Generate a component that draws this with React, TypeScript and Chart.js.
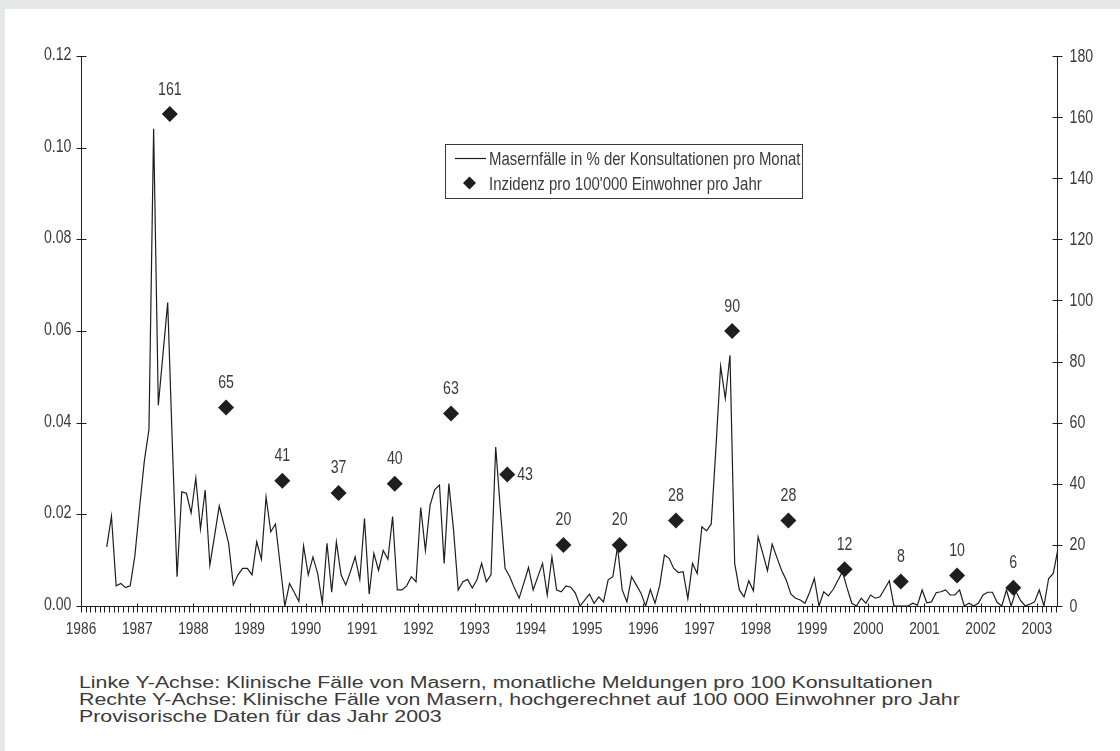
import React, { useEffect, useLayoutEffect, useRef, useState } from 'react';
import { Chart, registerables } from 'chart.js';

Chart.register(...registerables);

// ---------------- data ----------------
const START_YEAR = 1986;
const START_MONTH = 6; // first monthly value: June 1986

// Masernfälle in % der Konsultationen pro Monat (Jun 1986 – May 2003)
const monthlyCases: number[] = [
  // 1986 Jun–Dec
  0.0129, 0.0196, 0.0044, 0.0049, 0.004, 0.0044, 0.011,
  // 1987
  0.0215, 0.0315, 0.0385, 0.1041, 0.0438, 0.055, 0.0662, 0.035, 0.0064, 0.0249, 0.0246, 0.0203,
  // 1988
  0.0279, 0.0168, 0.0253, 0.0089, 0.0153, 0.0218, 0.0178, 0.0137, 0.0046, 0.0068, 0.0082, 0.0082,
  // 1989
  0.0068, 0.014, 0.0102, 0.0238, 0.0162, 0.0179, 0.009, 0.0, 0.0049, 0.003, 0.001, 0.0131,
  // 1990
  0.0068, 0.0107, 0.0071, 0.0006, 0.0137, 0.003, 0.014, 0.0068, 0.0046, 0.0075, 0.0107, 0.0058,
  // 1991
  0.0191, 0.0026, 0.0115, 0.0078, 0.0121, 0.0102, 0.0195, 0.0035, 0.0035, 0.0044, 0.0064, 0.0053,
  // 1992
  0.0215, 0.0121, 0.022, 0.0254, 0.0264, 0.0093, 0.0267, 0.0166, 0.0035, 0.0053, 0.0058, 0.0039,
  // 1993
  0.0057, 0.0093, 0.0053, 0.0068, 0.0347, 0.021, 0.0082, 0.0064, 0.0039, 0.0017, 0.005, 0.0084,
  // 1994
  0.0035, 0.0064, 0.0093, 0.0024, 0.0107, 0.0035, 0.0031, 0.0044, 0.0041, 0.0028, 0.0, 0.0013,
  // 1995
  0.0026, 0.0006, 0.002, 0.0009, 0.0057, 0.0064, 0.0129, 0.0035, 0.0009, 0.0064, 0.0046, 0.0028,
  // 1996
  0.0, 0.0036, 0.0006, 0.0045, 0.0111, 0.0104, 0.0082, 0.0073, 0.0075, 0.0016, 0.0093, 0.0071,
  // 1997
  0.0173, 0.0164, 0.0179, 0.0345, 0.0523, 0.0453, 0.0547, 0.0093, 0.0035, 0.002, 0.0055, 0.0033,
  // 1998
  0.0151, 0.0115, 0.0077, 0.0135, 0.0106, 0.0078, 0.0057, 0.0026, 0.0017, 0.0013, 0.0006, 0.003,
  // 1999
  0.006, 0.0, 0.0031, 0.0022, 0.0036, 0.0055, 0.0075, 0.0039, 0.0006, 0.0, 0.0017, 0.0006,
  // 2000
  0.0024, 0.0017, 0.002, 0.0037, 0.0055, 0.0, 0.0, 0.0, 0.0, 0.0006, 0.0002, 0.0035,
  // 2001
  0.0007, 0.0009, 0.0029, 0.0031, 0.0035, 0.0024, 0.0024, 0.0035, 0.0, 0.0006, 0.0, 0.0006,
  // 2002
  0.0024, 0.003, 0.003, 0.0008, 0.0, 0.0035, 0.0, 0.0032, 0.0012, 0.0, 0.0004, 0.0009,
  // 2003 Jan–May
  0.0035, 0.0, 0.006, 0.0071, 0.0125,
];

// Inzidenz pro 100'000 Einwohner pro Jahr
const incidenceYears = [1987, 1988, 1989, 1990, 1991, 1992, 1993, 1994, 1995, 1996, 1997, 1998, 1999, 2000, 2001, 2002];
const incidenceValues = [161, 65, 41, 37, 40, 63, 43, 20, 20, 28, 90, 28, 12, 8, 10, 6];
const sideLabelYears = [1993];

const xYearTicks = [1986, 1987, 1988, 1989, 1990, 1991, 1992, 1993, 1994, 1995, 1996, 1997, 1998, 1999, 2000, 2001, 2002, 2003];
const leftTicks = [0, 0.02, 0.04, 0.06, 0.08, 0.1, 0.12];
const rightTicks = [0, 20, 40, 60, 80, 100, 120, 140, 160, 180];

const legendLineLabel = 'Masernfälle in % der Konsultationen pro Monat';
const legendMarkerLabel = "Inzidenz pro 100'000 Einwohner pro Jahr";

const footnotes = [
  'Linke Y-Achse: Klinische Fälle von Masern, monatliche Meldungen pro 100 Konsultationen',
  'Rechte Y-Achse: Klinische Fälle von Masern, hochgerechnet auf 100 000 Einwohner pro Jahr',
  'Provisorische Daten für das Jahr 2003',
];

// ---------------- style ----------------
const FONT = "'Liberation Sans', Arial, sans-serif";
const TEXT = '#3a3a3a';
const INK = '#1e1e1e';
const CONDENSE = 0.81; // horizontal squeeze to mimic a condensed face
const MARKER_POS = 0.58; // position of yearly marker within the year
const X_MIN = START_YEAR;
const X_MAX = START_YEAR + (START_MONTH - 1 + monthlyCases.length - 1 + 0.5) / 12;

function condensedText(
  ctx: CanvasRenderingContext2D,
  text: string,
  x: number,
  y: number,
  align: CanvasTextAlign,
  size: number,
  baseline: CanvasTextBaseline = 'alphabetic'
) {
  ctx.save();
  ctx.translate(x, y);
  ctx.scale(CONDENSE, 1);
  ctx.font = `${size}px ${FONT}`;
  ctx.fillStyle = TEXT;
  ctx.textAlign = align;
  ctx.textBaseline = baseline;
  ctx.fillText(text, 0, 0);
  ctx.restore();
}

const axisPlugin = {
  id: 'axisTicks',
  afterDraw(chart: any) {
    const { ctx, chartArea, scales } = chart;
    const xs = scales.x;
    const ys = scales.y;
    const y1s = scales.y1;
    const L = Math.round(chartArea.left) + 0.5;
    const R = Math.round(chartArea.right) - 0.5;
    const T = Math.round(chartArea.top);
    const B = Math.round(chartArea.bottom) + 0.5;
    ctx.save();
    ctx.strokeStyle = INK;
    ctx.lineWidth = 1;
    ctx.beginPath();
    ctx.moveTo(L, T);
    ctx.lineTo(L, B);
    ctx.moveTo(R, T);
    ctx.lineTo(R, B);
    ctx.moveTo(L, B);
    ctx.lineTo(R, B);
    leftTicks.forEach((v) => {
      const py = Math.round(ys.getPixelForValue(v)) + 0.5;
      ctx.moveTo(L - 5, py);
      ctx.lineTo(L + 5, py);
    });
    rightTicks.forEach((v) => {
      const py = Math.round(y1s.getPixelForValue(v)) + 0.5;
      ctx.moveTo(R - 5, py);
      ctx.lineTo(R + 5, py);
    });
    const nMonths = Math.floor((X_MAX - X_MIN) * 12 + 1e-6);
    for (let m = 0; m <= nMonths; m++) {
      const v = X_MIN + m / 12;
      const px = Math.round(xs.getPixelForValue(v)) + 0.5;
      if (m % 12 === 0) {
        ctx.moveTo(px, B - 3);
        ctx.lineTo(px, B + 6);
      } else {
        ctx.moveTo(px, B);
        ctx.lineTo(px, B + 6);
      }
    }
    ctx.stroke();
    ctx.restore();

    // tick labels
    leftTicks.forEach((v) => {
      const py = ys.getPixelForValue(v);
      condensedText(ctx, v.toFixed(2), L - 10, py + 4, 'right', 17.5);
    });
    rightTicks.forEach((v) => {
      const py = y1s.getPixelForValue(v);
      condensedText(ctx, String(v), R + 12, py + 5.5, 'left', 17.5);
    });
    xYearTicks.forEach((v) => {
      const px = xs.getPixelForValue(v);
      condensedText(ctx, String(v), px, B + 27, 'center', 17);
    });
  },
};

const labelPlugin = {
  id: 'markerLabels',
  afterDatasetsDraw(chart: any) {
    const { ctx } = chart;
    const meta = chart.getDatasetMeta(0);
    meta.data.forEach((pt: any, i: number) => {
      const txt = String(incidenceValues[i]);
      if (sideLabelYears.includes(incidenceYears[i])) {
        condensedText(ctx, txt, pt.x + 10, pt.y + 5, 'left', 17.5);
      } else {
        condensedText(ctx, txt, pt.x, pt.y - 19.5, 'center', 17.5);
      }
    });
  },
};

const legendPlugin = {
  id: 'boxLegend',
  afterDraw(chart: any) {
    const { ctx } = chart;
    const bx = 445.5;
    const by = 144.5;
    const bw = 357;
    const bh = 54;
    ctx.save();
    ctx.strokeStyle = '#3a3a3a';
    ctx.lineWidth = 1;
    ctx.strokeRect(bx, by, bw, bh);
    ctx.strokeStyle = INK;
    ctx.lineWidth = 1.2;
    ctx.beginPath();
    ctx.moveTo(455, 158.5);
    ctx.lineTo(486, 158.5);
    ctx.stroke();
    ctx.fillStyle = INK;
    ctx.beginPath();
    const cx = 469.5;
    const cy = 183;
    const r = 6.5;
    ctx.moveTo(cx, cy - r);
    ctx.lineTo(cx + r, cy);
    ctx.lineTo(cx, cy + r);
    ctx.lineTo(cx - r, cy);
    ctx.closePath();
    ctx.fill();
    ctx.restore();
    condensedText(ctx, legendLineLabel, 489, 165, 'left', 18.5);
    condensedText(ctx, legendMarkerLabel, 489, 190, 'left', 18.5);
  },
};

export default function App() {
  const canvasRef = useRef<HTMLCanvasElement | null>(null);
  const noteRef = useRef<HTMLSpanElement | null>(null);
  const [noteScale, setNoteScale] = useState(1);

  useLayoutEffect(() => {
    if (noteRef.current) {
      const w = noteRef.current.offsetWidth;
      if (w > 0) setNoteScale(853 / w);
    }
  }, []);

  useEffect(() => {
    if (!canvasRef.current) return;
    const lineData = monthlyCases.map((v, i) => ({
      x: START_YEAR + (START_MONTH - 1 + i + 0.5) / 12,
      y: v,
    }));
    const markerData = incidenceYears.map((yr, i) => ({ x: yr + MARKER_POS, y: incidenceValues[i] }));

    const chart = new Chart(canvasRef.current, {
      type: 'line',
      data: {
        datasets: [
          {
            label: legendMarkerLabel,
            data: markerData,
            yAxisID: 'y1',
            showLine: false,
            pointStyle: 'rectRot',
            pointRadius: 8,
            pointHoverRadius: 8,
            pointBackgroundColor: INK,
            pointBorderColor: INK,
            pointBorderWidth: 0,
          },
          {
            label: legendLineLabel,
            data: lineData,
            yAxisID: 'y',
            borderColor: INK,
            borderWidth: 1.2,
            pointRadius: 0,
            pointHoverRadius: 0,
            tension: 0,
            fill: false,
          },
        ],
      },
      options: {
        responsive: false,
        animation: false,
        devicePixelRatio: 1,
        events: [],
        layout: { padding: { top: 56, left: 0, right: 0, bottom: 0 } },
        plugins: {
          legend: { display: false },
          tooltip: { enabled: false },
          title: { display: false },
        },
        scales: {
          x: {
            type: 'linear',
            min: X_MIN,
            max: X_MAX,
            afterFit: (s: any) => {
              s.height = 44;
            },
            ticks: { display: false },
            grid: { display: false, drawTicks: false },
            border: { display: false },
          },
          y: {
            type: 'linear',
            position: 'left',
            min: 0,
            max: 0.12,
            afterFit: (s: any) => {
              s.width = 81;
            },
            ticks: { display: false },
            grid: { display: false, drawTicks: false },
            border: { display: false },
          },
          y1: {
            type: 'linear',
            position: 'right',
            min: 0,
            max: 180,
            afterFit: (s: any) => {
              s.width = 62;
            },
            ticks: { display: false },
            grid: { display: false, drawTicks: false },
            border: { display: false },
          },
        },
      },
      plugins: [axisPlugin, labelPlugin, legendPlugin],
    } as any);

    return () => {
      chart.destroy();
    };
  }, []);

  return (
    <div
      style={{
        position: 'absolute',
        left: 0,
        top: 0,
        width: 1120,
        height: 751,
        background: '#e6e7e9',
        overflow: 'hidden',
      }}
    >
      <div
        style={{
          position: 'absolute',
          left: 5,
          top: 9,
          right: 0,
          bottom: 0,
          background: '#ffffff',
        }}
      />
      <canvas
        ref={canvasRef}
        width={1120}
        height={650}
        style={{ position: 'absolute', left: 0, top: 0, width: 1120, height: 650 }}
      />
      <div
        style={{
          position: 'absolute',
          left: 79,
          top: 674,
          fontFamily: "'Liberation Sans', Arial, sans-serif",
          fontSize: 16,
          lineHeight: '17px',
          color: TEXT,
          whiteSpace: 'nowrap',
          transform: `scaleX(${noteScale})`,
          transformOrigin: 'left top',
        }}
      >
        {footnotes.map((t, i) => (
          <div key={i}>
            <span ref={i === 0 ? noteRef : undefined}>{t}</span>
          </div>
        ))}
      </div>
    </div>
  );
}
